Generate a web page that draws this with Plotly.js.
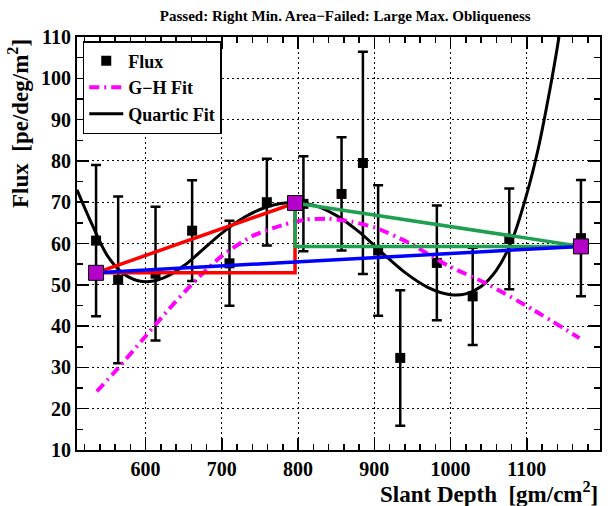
<!DOCTYPE html>
<html>
<head>
<meta charset="utf-8">
<script src="https://cdn.plot.ly/plotly-3.0.1.min.js"></script>
<style>html,body{margin:0;padding:0;background:#fff;}#chart{width:611px;height:506px;}</style>
</head>
<body>
<div id="chart"></div>
<script>
// Measured flux points
const fluxX   = [535, 564, 613, 661, 710, 759, 807, 857, 885, 905, 934, 982, 1029, 1077, 1171];
const fluxY   = [60.7, 51.2, 52.7, 63.1, 55.2, 70.0, 69.6, 72.0, 79.5, 58.3, 32.3, 55.3, 47.2, 61.1, 61.3];
const fluxErr = [18.3, 20.2, 16.2, 12.2, 10.3, 10.5, 11.5, 13.7, 26.9, 15.8, 16.4, 13.9, 11.8, 12.2, 14.1];

// G-H fit curve
const ghX = [536, 560, 596, 630, 662, 700, 740, 780, 810, 840, 870, 902, 946, 998, 1046, 1108, 1169];
const ghY = [24.2, 29.0, 36.7, 44.0, 50.4, 57.0, 61.8, 64.5, 65.8, 66.0, 65.3, 63.8, 60.1, 54.5, 50.4, 44.0, 37.1];

// Quartic fit curve
const qX = [510, 530, 550, 570, 590, 610, 630, 650, 670, 700, 730, 760, 790, 820, 850, 880, 910, 940, 970, 1000, 1020, 1040, 1060, 1080, 1100, 1115, 1130, 1140, 1150];
const qY = [73.0, 64.5, 57.0, 52.8, 51.0, 50.9, 52.2, 54.6, 57.7, 62.5, 66.4, 68.9, 69.9, 69.3, 66.8, 62.8, 57.8, 53.0, 49.4, 47.6, 47.8, 49.6, 53.5, 60.5, 72.0, 83.0, 97.0, 107.5, 120.0];

// Key points (magenta squares)
const keyX = [535, 796, 1171];
const keyY = [52.9, 69.8, 59.3];

// Polygons built from key points
const redX   = [keyX[0], keyX[1], keyX[1], keyX[0]];
const redY   = [keyY[0], keyY[1], keyY[0], keyY[0]];
const greenX = [keyX[1], keyX[2], keyX[1], keyX[1]];
const greenY = [keyY[1], keyY[2], keyY[2], keyY[1]];
const blueX  = [keyX[0], keyX[2]];
const blueY  = [keyY[0], keyY[2]];

const FONT = 'Liberation Serif, Times New Roman, serif';

const traces = [
  {x: fluxX, y: fluxY, type: 'scatter', mode: 'markers', name: '<b>Flux</b>', legendrank: 1,
   marker: {symbol: 'square', size: 10, color: 'black'},
   error_y: {type: 'data', array: fluxErr, visible: true, color: 'black', thickness: 2.5, width: 5}},
  {x: qX, y: qY, type: 'scatter', mode: 'lines', name: '<b>Quartic Fit</b>', legendrank: 3,
   line: {color: 'black', width: 3, shape: 'spline', smoothing: 1}},
  {x: ghX, y: ghY, type: 'scatter', mode: 'lines', name: '<b>G\u2212H Fit</b>', legendrank: 2,
   line: {color: '#ff00ff', width: 4, dash: '10px,5px,2px,5px', shape: 'spline', smoothing: 0.6}},
  {x: redX, y: redY, type: 'scatter', mode: 'lines', showlegend: false, line: {color: '#ff0000', width: 3.5}},
  {x: greenX, y: greenY, type: 'scatter', mode: 'lines', showlegend: false, line: {color: '#1fa050', width: 3.5}},
  {x: blueX, y: blueY, type: 'scatter', mode: 'lines', showlegend: false, line: {color: '#0000ff', width: 3.5}},
  {x: keyX, y: keyY, type: 'scatter', mode: 'markers', showlegend: false,
   marker: {symbol: 'square', size: 15, color: '#b400c8', line: {color: 'black', width: 1}}}
];

const axisCommon = {
  showline: true, linecolor: 'black', linewidth: 2, mirror: 'allticks',
  ticks: 'inside', ticklen: 12, tickwidth: 1.5, tickcolor: 'black',
  showgrid: true, gridcolor: 'black', griddash: '1.5px,3.5px', gridwidth: 1,
  zeroline: false,
  tickfont: {family: FONT, size: 20, color: 'black', weight: 'bold'}
};

const layout = {
  width: 611, height: 506,
  margin: {l: 77, r: 11, t: 37, b: 56},
  paper_bgcolor: 'white', plot_bgcolor: 'white',
  showlegend: true,
  title: {text: '<b>Passed: Right Min. Area\u2212Failed: Large Max. Obliqueness</b>',
          font: {family: FONT, size: 15, color: 'black'}, x: 0.565, xanchor: 'center', y: 0.968, yanchor: 'middle'},
  xaxis: Object.assign({}, axisCommon, {range: [510, 1196], dtick: 100, tick0: 0,
    minor: {dtick: 20, ticklen: 6, ticks: 'inside', tickcolor: 'black', tickwidth: 1.5, showgrid: false}}),
  yaxis: Object.assign({}, axisCommon, {range: [10, 110], dtick: 10, tick0: 0,
    minor: {dtick: 5, ticklen: 6, ticks: 'inside', tickcolor: 'black', tickwidth: 1.5, showgrid: false}}),
  legend: {x: 0.011, y: 0.99, xanchor: 'left', yanchor: 'top', bgcolor: 'white',
    bordercolor: 'black', borderwidth: 1.5, traceorder: 'normal',
    font: {family: FONT, size: 18, color: 'black'}, itemwidth: 34, tracegroupgap: 0},
  annotations: [
    {text: '<b>Slant Depth  [gm/cm<sup>2</sup>]</b>', xref: 'paper', yref: 'paper', x: 1, y: 0,
     xanchor: 'right', yanchor: 'middle', yshift: -42, showarrow: false,
     font: {family: FONT, size: 23, color: 'black'}},
    {text: '<b>Flux  [pe/deg/m<sup>2</sup>]</b>', xref: 'paper', yref: 'paper', x: 0, y: 1,
     xanchor: 'right', yanchor: 'top', xshift: -42, textangle: -90, showarrow: false,
     font: {family: FONT, size: 23, color: 'black'}}
  ]
};

Plotly.newPlot('chart', traces, layout, {displayModeBar: false, staticPlot: true});
</script>
</body>
</html>
